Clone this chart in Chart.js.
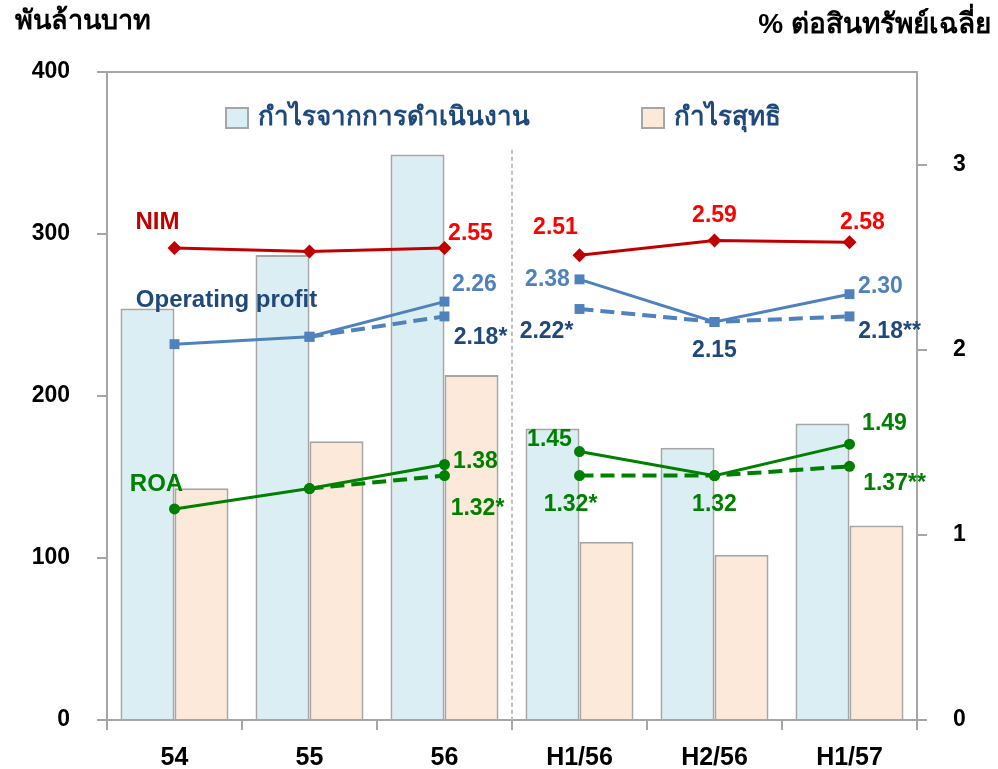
<!DOCTYPE html>
<html>
<head>
<meta charset="utf-8">
<script src="https://cdn.jsdelivr.net/npm/chart.js@4.4.1/dist/chart.umd.min.js"></script>
<style>
  html, body { margin: 0; padding: 0; background: #fff; }
  #wrap { position: relative; width: 998px; height: 769px; }
</style>
</head>
<body>
<div id="wrap"><canvas id="myChart" width="998" height="769"></canvas></div>
<script>
// categories and values
const categories = ['54', '55', '56', 'H1/56', 'H2/56', 'H1/57'];
const opProfitBars = [254, 287, 349, 180, 168, 183];   // กำไรจากการดำเนินงาน (พันล้านบาท)
const netProfitBars = [143, 172, 213, 110, 102, 120];  // กำไรสุทธิ (พันล้านบาท)
const nim = [2.55, 2.53, 2.55, 2.51, 2.59, 2.58];
const opRatio = [2.03, 2.07, 2.26, 2.38, 2.15, 2.30];
const opRatioAdj = [null, 2.07, 2.18, 2.22, 2.15, 2.18];
const roa = [1.14, 1.25, 1.38, 1.45, 1.32, 1.49];
const roaAdj = [null, 1.25, 1.32, 1.32, 1.32, 1.37];
const leftTicks = [0, 100, 200, 300, 400];
const rightTicks = [0, 1, 2, 3];

// point labels
const nimLabels = [null, null, '2.55', '2.51', '2.59', '2.58'];
const opLabels = [null, null, '2.26', '2.38', null, '2.30'];
const opAdjLabels = [null, null, '2.18*', '2.22*', '2.15', '2.18**'];
const roaLabels = [null, null, '1.38', '1.45', null, '1.49'];
const roaAdjLabels = [null, null, '1.32*', '1.32*', '1.32', '1.37**'];

const FONT = "'Liberation Sans', Arial, sans-serif";
const GREY = '#a6a6a6';

// hide the line between 56 and H1/56
function gapColor(color) {
    return ctx => ctx.p0DataIndex === 2 ? 'rgba(0,0,0,0)' : color;
}

function lineSet(label, data, color, style, dashed) {
    return {
        type: 'line',
        label: label,
        data: data,
        yAxisID: 'y1',
        borderColor: color,
        backgroundColor: color,
        borderWidth: dashed ? 4 : 3,
        borderDash: dashed ? [14, 7] : [],
        pointStyle: style,
        pointRadius: style === 'circle' ? 5.5 : 7,
        pointBorderWidth: 0,
        segment: { borderColor: gapColor(color) },
        order: 0
    };
}

const datasets = [
    lineSet('NIM', nim, '#c00000', 'rectRot', false),
    lineSet('Operating profit', opRatio, '#4f81bd', 'rect', false),
    lineSet('Operating profit*', opRatioAdj, '#4f81bd', 'rect', true),
    lineSet('ROA', roa, '#008000', 'circle', false),
    lineSet('ROA*', roaAdj, '#008000', 'circle', true),
    {
        label: 'กำไรจากการดำเนินงาน',
        data: opProfitBars,
        yAxisID: 'y',
        backgroundColor: '#daeef3',
        borderColor: GREY,
        borderWidth: 2,
        categoryPercentage: 0.8,
        barPercentage: 1.0,
        order: 10
    },
    {
        label: 'กำไรสุทธิ',
        data: netProfitBars,
        yAxisID: 'y',
        backgroundColor: '#fde9d9',
        borderColor: GREY,
        borderWidth: 2,
        categoryPercentage: 0.8,
        barPercentage: 1.0,
        order: 10
    }
];

// label placement: [dataset index, texts, color, offsets]
const pointLabelSets = [
    [0, nimLabels, '#ff0000', [null, null, [26, -14], [-24, -28], [0, -25], [13, -20]]],
    [1, opLabels, '#4f81bd', [null, null, [30, -17], [-32, 0], null, [31, -8]]],
    [2, opAdjLabels, '#1f497d', [null, null, [36, 21], [-33, 23], [0, 29], [40, 15]]],
    [3, roaLabels, '#008000', [null, null, [31, -3], [-30, -12], null, [35, -20]]],
    [4, roaAdjLabels, '#008000', [null, null, [33, 33], [-9, 29], [0, 29], [45, 17]]]
];
// series names next to the first point
const seriesNames = [
    [0, 'NIM', '#c00000', [-17, -26]],
    [1, 'Operating profit', '#1f497d', [52, -44]],
    [3, 'ROA', '#008000', [-18, -25]]
];

const overlay = {
    id: 'overlay',
    beforeDatasetsDraw(chart) {
        const c = chart.ctx, a = chart.chartArea;
        const x = chart.scales.x, y = chart.scales.y;
        c.save();
        // top border
        c.strokeStyle = GREY;
        c.lineWidth = 2;
        c.beginPath();
        c.moveTo(a.left, a.top);
        c.lineTo(a.right, a.top);
        c.stroke();
        // dashed divider between yearly and half-year figures
        const xm = (x.getPixelForValue(2) + x.getPixelForValue(3)) / 2;
        c.strokeStyle = '#bfbfbf';
        c.setLineDash([4, 3]);
        c.beginPath();
        c.moveTo(xm, y.getPixelForValue(352));
        c.lineTo(xm, a.bottom);
        c.stroke();
        c.restore();
    },
    afterDatasetsDraw(chart) {
        const c = chart.ctx, a = chart.chartArea;
        c.save();
        c.textAlign = 'center';
        c.textBaseline = 'middle';
        c.font = 'bold 23px ' + FONT;
        pointLabelSets.forEach(([di, texts, color, offs]) => {
            const pts = chart.getDatasetMeta(di).data;
            c.fillStyle = color;
            texts.forEach((t, i) => {
                if (!t) return;
                c.fillText(t, pts[i].x + offs[i][0], pts[i].y + offs[i][1]);
            });
        });
        c.font = 'bold 24px ' + FONT;
        seriesNames.forEach(([di, name, color, off]) => {
            const p = chart.getDatasetMeta(di).data[0];
            c.fillStyle = color;
            c.fillText(name, p.x + off[0], p.y + off[1]);
        });

        // legend for the bars
        const items = [[5, a.left + 119], [6, a.left + 535]];
        c.textAlign = 'left';
        c.font = 'bold 26px ' + FONT;
        items.forEach(([di, lx]) => {
            const ds = chart.data.datasets[di];
            c.fillStyle = ds.backgroundColor;
            c.fillRect(lx, a.top + 36, 22, 20);
            c.strokeStyle = GREY;
            c.lineWidth = 2;
            c.strokeRect(lx, a.top + 36, 22, 20);
            c.fillStyle = '#1f497d';
            c.fillText(ds.label, lx + 32, a.top + 46);
        });

        // axis unit titles
        c.fillStyle = '#000';
        c.font = 'bold 27px ' + FONT;
        c.fillText('พันล้านบาท', 15, 22);
        c.textAlign = 'right';
        c.font = 'bold 28px ' + FONT;
        c.fillText('% ต่อสินทรัพย์เฉลี่ย', 991, 25);
        c.restore();
    }
};

document.addEventListener('DOMContentLoaded', function () {
    const ctx = document.getElementById('myChart').getContext('2d');
    new Chart(ctx, {
        type: 'bar',
        data: { labels: categories, datasets: datasets },
        plugins: [overlay],
        options: {
            responsive: false,
            animation: false,
            layout: { padding: { top: 72, left: 0, right: 0, bottom: 0 } },
            plugins: {
                legend: { display: false },
                tooltip: { enabled: false }
            },
            scales: {
                x: {
                    afterFit: s => { s.height = 49; },
                    border: { color: GREY, width: 2 },
                    grid: { drawOnChartArea: false, color: GREY, lineWidth: 2, tickLength: 10, offset: true },
                    ticks: { color: '#000', font: { family: FONT, size: 25, weight: 'bold' }, padding: 13 }
                },
                y: {
                    position: 'left',
                    min: 0,
                    max: 400,
                    afterFit: s => { s.width = 107; },
                    afterBuildTicks: s => { s.ticks = leftTicks.map(v => ({ value: v })); },
                    border: { color: GREY, width: 2 },
                    grid: { drawOnChartArea: false, color: GREY, lineWidth: 2, tickLength: 10 },
                    ticks: { color: '#000', font: { family: FONT, size: 23, weight: 'bold' }, padding: 27 }
                },
                y1: {
                    position: 'right',
                    min: 0,
                    max: 3.5,
                    afterFit: s => { s.width = 81; },
                    afterBuildTicks: s => { s.ticks = rightTicks.map(v => ({ value: v })); },
                    border: { color: GREY, width: 2 },
                    grid: { drawOnChartArea: false, color: GREY, lineWidth: 2, tickLength: 10 },
                    ticks: { color: '#000', font: { family: FONT, size: 23, weight: 'bold' }, padding: 26 }
                }
            }
        }
    });
});
</script>
</body>
</html>
